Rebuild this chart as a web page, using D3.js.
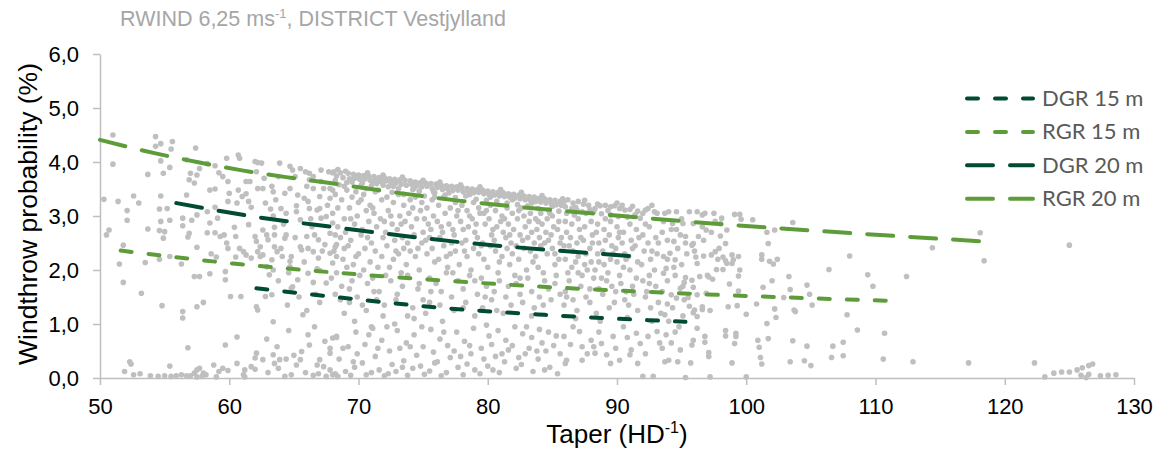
<!DOCTYPE html>
<html><head><meta charset="utf-8">
<script src="https://cdn.jsdelivr.net/npm/d3@7"></script>
<style>body{margin:0;background:#fff}svg{display:block}</style>
</head><body><svg id="c" width="1161" height="459"></svg>
<script>
const xTicks=[50,60,70,80,90,100,110,120,130];
const yTicks=[0,1,2,3,4,5,6];
const seriesNames=["DGR 15 m","RGR 15 m","DGR 20 m","RGR 20 m"];
const dgr15=[[62.1,1.66],[68.6,1.49],[75.9,1.31],[84.4,1.17],[95.3,1.04]];
const rgr15=[[51.6,2.36],[60.3,2.12],[67.8,1.96],[76.3,1.81],[85.0,1.68],[95.8,1.56],[110.9,1.43]];
const dgr20=[[55.9,3.24],[61.6,3.00],[68.2,2.79],[71.5,2.69],[78.1,2.51],[84.8,2.37],[91.6,2.25]];
const rgr20=[[50,4.41],[54.3,4.16],[57.7,3.99],[61.1,3.84],[64.4,3.72],[67.8,3.61],[71.2,3.49],[77.9,3.28],[84.6,3.12],[88.0,3.05],[94.8,2.91],[101.5,2.79],[108.3,2.68],[118.2,2.53]];

const scatterA=[[51.0,4.50],[51.0,3.96],[50.3,3.31],[50.7,2.74],[50.5,2.65],[51.4,3.27],[52.1,3.10],[52.1,2.92],[52.6,3.37],[53.0,3.24],[51.8,2.46],[51.5,2.11],[51.8,1.77],[53.2,1.57],[53.7,3.77],[54.3,4.47],[54.3,4.29],[54.7,4.34],[54.7,4.02],[54.9,3.79],[55.4,3.90],[55.5,4.24],[55.6,4.38],[53.7,2.76],[53.5,2.14],[54.7,3.37],[54.6,3.13],[54.7,2.90],[54.6,2.73],[54.9,2.59],[55.0,2.71],[55.4,2.92],[55.2,3.14],[54.8,1.34],[55.4,2.25],[54.6,2.20],[56.4,1.11],[56.4,1.23],[56.8,0.56],[56.7,4.04],[57.4,4.26],[57.0,3.79],[56.9,3.67],[57.3,3.61],[57.5,3.76],[57.7,3.88],[56.7,3.39],[56.4,2.96],[56.4,2.82],[56.9,2.68],[56.8,2.61],[57.5,3.02],[57.1,2.92],[56.3,2.11],[57.5,2.42],[57.3,1.88],[57.7,1.88],[57.5,1.32],[58.0,1.40],[58.3,3.97],[58.9,3.93],[59.2,3.80],[59.5,3.73],[59.9,3.64],[59.8,4.07],[60.7,4.13],[60.8,4.07],[58.5,3.48],[58.9,3.50],[58.3,3.08],[58.5,2.87],[58.3,2.69],[58.9,2.69],[59.1,2.96],[58.9,3.16],[59.3,2.62],[59.6,2.65],[59.8,2.50],[59.9,2.40],[58.6,2.30],[59.0,2.24],[58.5,1.93],[59.7,1.97],[59.7,1.82],[60.5,2.24],[60.5,2.62],[60.4,2.79],[60.1,1.51],[60.9,1.51],[60.6,0.76],[59.7,0.61],[60.6,0.27],[59.9,0.14],[59.5,0.18],[58.8,0.24],[60.6,3.24],[59.9,3.27],[60.0,3.42],[60.7,3.48],[61.3,3.64],[61.6,3.64],[61.0,3.36],[61.5,3.27],[61.7,3.16],[61.3,3.41],
[62.0,4.01],[62.2,3.99],[62.5,3.98],[62.1,3.82],[62.2,3.51],[62.6,3.51],[63.3,3.55],[63.4,3.45],[62.8,3.24],[63.2,3.13],[63.4,3.00],[61.5,2.84],[62.0,2.62],[62.1,2.53],[62.4,2.43],[62.2,2.34],[62.4,2.25],[62.6,2.28],[60.8,2.40],[61.1,2.34],[61.3,2.28],[61.7,2.22],[62.6,2.74],[62.9,2.65],[63.0,2.56],[63.5,2.79],[63.5,2.65],[63.5,2.43],[63.7,2.34],[64.0,2.40],[64.1,2.25],[63.3,2.19],[62.9,2.06],[63.4,2.00],[63.1,1.91],[63.8,3.73],[63.9,3.98],[64.3,3.42],[64.0,3.14],[64.4,3.05],[64.4,2.65],[64.3,2.59],[64.7,3.92],[64.9,3.85],[65.5,3.88],[65.1,3.73],[64.7,3.51],[65.3,3.39],[65.2,3.19],[65.2,3.08],[65.5,2.93],[65.5,2.43],[65.6,2.37],[64.8,2.25],[64.7,2.16],[64.7,2.06],[65.3,1.82],[64.9,1.69],[64.8,1.66],[65.9,3.82],[66.2,3.79],[66.2,3.67],[66.5,3.73],[66.0,3.55],[66.5,3.51],[65.8,3.33],[66.1,3.27],[66.2,3.14],[66.8,3.11],[66.0,2.62],[66.4,2.80],[66.6,2.65],[66.9,2.56],[66.5,2.34],[66.9,2.22],[66.1,2.40],[66.1,1.94],[66.5,1.77],[67.5,1.76],[66.8,2.02],[67.0,1.99],[67.1,3.85],[67.7,3.82],[68.0,3.80],[67.1,3.64],[67.3,3.51],[67.8,3.51],[68.0,3.48],[67.0,3.36],[67.8,3.33],[67.0,3.14],[67.1,2.96],[67.5,2.99],[68.0,2.87],[67.8,2.68],[68.2,2.65],[68.3,2.47],[67.4,2.47],[67.8,2.31],[68.2,2.43],[68.0,2.13],[68.3,2.25],
[62.8,1.51],[63.3,1.54],[62.1,1.32],[62.2,1.26],[63.4,1.04],[65.7,1.17],[66.1,0.80],[66.2,0.61],[65.6,0.49],[65.5,0.34],[65.2,0.24],[62.1,0.46],[62.0,0.37],[61.7,0.21],[62.0,0.16],[62.6,0.34],[63.4,0.43],[63.5,0.27],[63.8,0.18],[63.9,0.34],[64.4,0.35],[64.3,0.03],[64.8,0.06],[61.2,0.15],[61.1,0.06],[67.0,0.34],[66.8,0.24],[67.3,0.21],[67.8,0.46],[67.8,0.55],[68.0,0.74],[68.3,0.77],[67.8,0.15],[68.0,0.06],[67.5,0.03],[68.4,0.03],
[51.9,0.12],[52.6,0.06],[53.1,0.08],[53.9,0.04],[54.5,0.03],[55.0,0.04],[55.5,0.03],[55.9,0.04],[56.3,0.06],[56.7,0.04],[57.0,0.04],[57.3,0.09],[57.5,0.15],[57.7,0.18],[58.0,0.09],[58.2,0.06],[57.9,0.03],[57.5,0.02],[52.3,0.30],[52.4,0.26],[55.4,0.22],[59.2,0.12],[59.0,0.02],[61.2,0.02],[66.5,0.05],[65.9,0.10],[66.9,0.08],[63.0,0.10]];

const scatterB=[[68.1,3.82],[68.3,3.74],[68.2,3.66],[68.5,3.58],[68.6,3.80],[68.8,3.71],[68.9,3.55],[69.2,3.79],[69.3,3.69],[69.1,3.62],[69.6,3.77],[69.7,3.70],[69.5,3.63],[69.8,3.45],[70.0,3.76],[70.1,3.68],[70.2,3.57],[70.4,3.75],[70.5,3.69],[70.3,3.61],[70.6,3.51],[70.8,3.74],[70.9,3.66],[71.0,3.56],[71.2,3.73],[71.3,3.67],[71.4,3.60],[71.6,3.71],[71.7,3.64],[71.5,3.48],[72.0,3.71],[72.1,3.65],[71.9,3.57],[72.4,3.69],[72.5,3.62],[72.3,3.54],[72.6,3.44],[72.8,3.68],[72.9,3.61],[73.2,3.67],[73.3,3.59],[73.1,3.51],[73.6,3.66],[73.7,3.57],[73.5,3.40],[74.0,3.65],[74.1,3.59],[74.2,3.49],[74.4,3.63],[74.5,3.56],[74.8,3.62],[74.9,3.54],[74.7,3.46],[75.2,3.61],[75.3,3.55],[75.1,3.37],[75.6,3.60],[75.7,3.51],[76.0,3.59],[76.1,3.53],[75.9,3.43],[76.4,3.57],[76.5,3.49],[76.8,3.56],[76.9,3.50],[76.7,3.39],[77.2,3.55],[77.3,3.47],[77.6,3.54],[77.7,3.48],[77.5,3.34],[78.0,3.53],[78.1,3.45],[78.4,3.51],[78.5,3.46],[78.3,3.37],[78.8,3.50],[78.9,3.43],[79.2,3.49],[79.3,3.44],[79.1,3.31],[79.6,3.48],[79.7,3.41],[80.0,3.46],[80.1,3.40],[79.9,3.29],[80.4,3.45],[80.5,3.39],[80.8,3.44],[80.9,3.37],[80.7,3.27],[81.2,3.43],[81.3,3.36],[81.6,3.41],[81.7,3.35],[81.5,3.24],[82.0,3.40],[82.1,3.33],[82.4,3.39],[82.5,3.32],[82.3,3.21],[82.8,3.37],[82.9,3.30],[83.2,3.36],[83.3,3.29],[83.1,3.19],[83.6,3.35],[83.7,3.27],[84.0,3.33],[84.1,3.26],[83.9,3.14],[84.4,3.32],[84.5,3.24],[84.8,3.30],[84.9,3.23],[84.7,3.11],[85.2,3.29],[85.3,3.21],[85.6,3.27],[85.7,3.20],[85.5,3.09],
[68.4,3.86],[69.0,3.83],[69.9,3.72],[70.7,3.80],[71.1,3.62],[71.9,3.76],[72.7,3.55],[73.4,3.72],[74.3,3.52],[75.0,3.66],[75.8,3.45],[76.3,3.63],[77.0,3.43],[77.9,3.58],[78.6,3.40],[79.4,3.54],[80.2,3.35],[81.0,3.49],[81.9,3.30],[82.6,3.44],[83.4,3.24],[84.2,3.38],[85.0,3.18],[85.8,3.32],
[68.2,3.40],[68.0,3.05],[68.4,2.80],[68.1,2.35],[68.3,1.95],[68.2,1.55],[68.7,3.30],[68.9,2.95],[68.6,2.60],[68.8,2.20],[68.7,1.70],[68.9,1.20],[69.1,3.48],[69.3,3.15],[69.0,2.70],[69.2,2.45],[69.1,2.05],[69.3,1.40],[69.5,3.35],[69.7,2.85],[69.4,2.55],[69.6,2.10],[69.5,1.80],[69.7,1.05],[70.0,3.25],[69.9,3.00],[70.2,2.65],[70.0,2.30],[70.1,1.90],[69.9,1.50],[70.4,3.40],[70.6,3.10],[70.3,2.75],[70.5,2.40],[70.4,2.00],[70.6,1.25],[70.9,3.20],[70.8,2.90],[71.0,2.50],[70.9,2.15],[70.7,1.75],[71.0,0.95],[71.3,3.45],[71.2,3.05],[71.4,2.80],[71.3,2.35],[71.1,1.85],[71.4,1.45],[71.8,3.30],[71.7,2.95],[71.9,2.60],[71.8,2.25],[71.6,1.60],[71.9,1.15],[72.2,3.35],[72.3,3.10],[72.1,2.70],[72.2,2.45],[72.4,2.05],[72.0,1.35],[72.7,3.25],[72.6,2.85],[72.8,2.55],[72.7,2.20],[72.5,1.80],[72.8,1.00],[73.1,3.40],[73.2,3.00],[73.0,2.75],[73.1,2.30],[73.3,1.95],[73.0,1.55],[73.5,3.20],[73.6,2.90],[73.4,2.60],[73.5,2.40],[73.7,2.10],[73.4,1.70],[74.0,3.30],[73.9,3.05],[74.1,2.80],[74.0,2.35],[73.8,1.90],[74.2,1.30],[74.4,3.35],[74.5,2.95],[74.3,2.65],[74.4,2.25],[74.6,1.65],[74.3,1.10],[74.9,3.25],[74.8,3.10],[75.0,2.70],[74.9,2.50],[74.7,2.00],[75.0,1.45],[75.3,3.15],[75.4,2.85],[75.2,2.55],[75.3,2.30],[75.5,1.85],[75.2,1.20],[75.7,3.30],[75.8,3.00],[75.6,2.75],[75.7,2.40],[75.9,2.15],[75.6,1.60],[76.2,3.20],[76.1,2.90],[76.3,2.60],[76.2,2.20],[76.0,1.75],[76.3,1.35],[76.6,3.35],[76.7,3.05],[76.5,2.70],[76.6,2.45],[76.8,1.95],[76.5,1.05],[77.1,3.15],[77.0,2.85],[77.2,2.50],[77.1,2.30],[76.9,2.05],[77.2,1.50],[77.5,3.25],[77.6,3.00],[77.4,2.65],[77.5,2.35],[77.7,1.80],[77.4,1.25],[78.0,3.20],[77.9,2.90],[78.1,2.75],[78.0,2.50],[77.8,2.10],[78.1,1.65],[78.4,3.10],[78.5,2.80],[78.3,2.55],[78.4,2.25],[78.6,1.90],[78.3,1.40],[78.9,3.25],[78.8,2.95],[79.0,2.70],[78.9,2.40],[78.7,2.00],[79.0,1.15],[79.3,3.15],[79.4,3.05],[79.2,2.60],[79.3,2.30],[79.5,1.85],[79.2,1.55],[79.7,3.05],[79.8,2.85],[79.6,2.50],[79.7,2.20],[79.9,1.70],[79.6,1.30],[80.2,3.20],[80.1,2.95],[80.3,2.65],[80.2,2.45],[80.0,2.05],[80.3,1.45],[80.6,3.10],[80.7,2.80],[80.5,2.55],[80.6,2.35],[80.8,1.95],[80.5,1.60],[81.1,3.00],[81.0,2.90],[81.2,2.70],[81.1,2.25],[80.9,1.80],[81.2,1.20],[81.5,3.15],[81.6,2.85],[81.4,2.60],[81.5,2.40],[81.7,2.10],[81.4,1.50],[81.9,3.05],[82.0,2.75],[81.8,2.50],[81.9,2.30],[82.1,1.90],[81.8,1.35],[82.4,3.10],[82.3,2.95],[82.5,2.65],[82.4,2.20],[82.2,1.75],[82.5,1.55],[82.8,3.00],[82.9,2.80],[82.7,2.55],[82.8,2.40],[83.0,2.00],[82.7,1.40],[83.3,3.05],[83.2,2.90],[83.4,2.70],[83.3,2.35],[83.1,1.85],[83.4,1.60],[83.7,2.95],[83.8,2.75],[83.6,2.50],[83.7,2.25],[83.9,2.05],[83.6,1.30],[84.1,3.05],[84.2,2.85],[84.0,2.60],[84.1,2.45],[84.3,1.95],[84.0,1.50],[84.6,2.95],[84.5,2.70],[84.7,2.55],[84.6,2.30],[84.4,1.80],[84.7,1.65],[85.0,3.00],[85.1,2.80],[84.9,2.65],[85.0,2.40],[85.2,2.10],[84.9,1.45],[85.5,2.90],[85.4,2.75],[85.6,2.50],[85.5,2.20],[85.3,1.90],[85.6,1.55],
[68.3,0.75],[68.5,0.35],[68.2,0.08],[69.2,0.58],[69.0,0.12],[69.4,0.05],[69.8,0.85],[69.9,0.45],[69.7,0.20],[70.5,0.62],[70.3,0.28],[70.6,0.06],[71.1,0.92],[71.3,0.40],[71.0,0.10],[71.8,0.70],[71.6,0.15],[72.0,0.04],[72.4,0.50],[72.6,0.25],[72.3,0.08],[73.0,0.88],[73.2,0.55],[72.9,0.12],[73.7,0.65],[73.5,0.32],[73.8,0.05],[74.3,0.80],[74.5,0.42],[74.2,0.18],[75.0,0.58],[74.8,0.22],[75.1,0.07],[75.6,0.90],[75.8,0.48],[75.5,0.13],[76.3,0.72],[76.1,0.30],[76.4,0.04],[76.9,0.60],[77.1,0.38],[76.8,0.10],[77.6,0.85],[77.4,0.50],[77.7,0.20],[78.2,0.68],[78.4,0.26],[78.1,0.06],[78.9,0.92],[78.7,0.45],[79.0,0.15],[79.5,0.55],[79.7,0.35],[79.4,0.08],[80.1,0.78],[80.3,0.62],[80.0,0.22],[80.8,0.88],[80.6,0.40],[80.9,0.10],[81.4,0.70],[81.6,0.52],[81.3,0.30],[82.1,0.95],[81.9,0.60],[82.2,0.18],[82.7,0.82],[82.9,0.45],[82.6,0.25],[83.4,0.75],[83.2,0.55],[83.5,0.12],[84.0,0.90],[84.2,0.65],[83.9,0.35],[84.7,0.85],[84.5,0.50],[84.8,0.20],[85.3,0.78],[85.1,0.60],[85.4,0.08]];

const scatterC=[[85.9,3.27],[86.2,3.30],[86.6,3.24],[87.0,3.27],[87.4,3.22],[87.8,3.20],[86.0,3.17],[86.5,3.14],[86.9,3.11],[87.3,3.08],[86.1,3.05],[86.7,3.02],[87.6,3.05],[88.2,3.08],[88.7,3.19],[89.1,3.20],[89.5,3.17],[89.8,3.19],[90.2,3.14],[90.6,3.11],[91.0,3.12],[88.8,3.04],[89.5,3.02],[90.1,2.99],[90.8,2.98],[91.4,3.02],[91.8,2.96],[92.2,3.11],[92.4,3.14],[92.9,3.08],[93.1,3.05],[88.3,3.14],[87.9,3.12],[91.6,3.09],[90.4,3.20],[86.8,3.16],[87.5,3.29],[88.5,3.22],[89.3,3.10],[90.0,3.24],[91.2,3.18],[92.0,3.05],[92.7,3.20],
[86.0,2.90],[86.1,2.70],[85.9,2.45],[86.0,2.20],[86.2,1.95],[86.0,1.60],[85.9,1.35],[86.5,2.85],[86.4,2.60],[86.6,2.35],[86.5,2.05],[86.3,1.80],[86.6,1.45],[87.0,2.95],[87.1,2.75],[86.9,2.50],[87.0,2.25],[87.2,1.70],[86.9,1.25],[87.5,2.80],[87.4,2.55],[87.6,2.30],[87.5,2.10],[87.3,1.90],[87.6,1.50],[88.0,2.90],[88.1,2.65],[87.9,2.40],[88.0,2.15],[88.2,1.85],[87.9,1.40],[88.5,2.85],[88.4,2.70],[88.6,2.50],[88.5,2.30],[88.3,2.00],[88.6,1.65],[88.4,1.20],[89.0,2.75],[89.1,2.55],[88.9,2.35],[89.0,2.10],[89.2,1.80],[88.9,1.55],[89.5,2.90],[89.4,2.65],[89.6,2.45],[89.5,2.20],[89.3,1.95],[89.6,1.70],[89.4,1.30],[90.0,2.80],[90.1,2.60],[89.9,2.40],[90.0,2.15],[90.2,1.90],[89.9,1.60],[90.5,2.70],[90.4,2.50],[90.6,2.30],[90.5,2.05],[90.3,1.75],[90.6,1.45],[91.0,2.85],[91.1,2.55],[90.9,2.25],[91.0,2.00],[91.2,1.70],[90.9,1.35],[91.5,2.75],[91.4,2.45],[91.6,2.15],[91.5,1.85],[91.3,1.55],[92.0,2.65],[92.1,2.35],[91.9,2.10],[92.0,1.80],[92.2,1.50],[92.5,2.80],[92.4,2.50],[92.6,2.20],[92.5,1.90],[92.3,1.60],[92.6,1.30],[93.0,2.60],[93.1,2.30],[92.9,2.00],[93.0,1.70],[93.2,1.40],
[85.9,0.77],[86.6,0.95],[87.3,0.58],[86.1,0.33],[88.3,0.46],[88.8,0.64],[89.2,0.43],[90.2,0.33],[91.1,0.52],[91.8,0.64],[92.0,0.03],[92.8,0.03],[91.6,0.27],[91.0,0.43],[89.7,0.77],[90.5,0.95],[91.5,0.83],[92.4,0.77],[93.1,0.86],[87.1,0.86],[88.0,0.70],[88.2,0.58],[86.0,0.27],[87.3,0.33],[89.5,0.27],[86.8,1.10],[88.7,1.05],[90.8,1.12],[92.7,1.05]];

const scatterD=[[99.1,3.03],[99.5,3.03],[99.6,2.94],[100.5,2.93],[101.6,2.70],[102.2,2.74],[101.7,2.49],[101.2,2.28],[101.2,2.20],[101.8,2.16],[102.1,2.11],[102.4,2.20],[99.4,2.25],[98.9,2.28],[99.5,2.00],[99.4,1.89],[98.7,1.74],[99.4,1.61],[99.3,1.34],[100.0,1.18],[100.8,1.37],[101.3,1.68],[102.0,1.80],[103.3,1.88],[102.9,1.49],[102.2,1.28],[102.3,1.12],[101.6,1.01],[101.7,0.73],[100.9,0.70],[101.0,0.57],[101.1,0.38],[101.2,0.26],[99.2,0.83],[99.2,0.77],[99.1,0.64],[98.4,0.88],[98.4,0.78],[98.9,0.28],[100.0,0.02],[97.2,0.02],[95.3,0.01],[98.6,1.32],[98.4,2.17],[98.9,2.12],[99.0,2.19],[97.7,2.01],[98.2,2.01],[98.5,2.12],[98.2,2.24],[97.8,2.20],[97.6,2.34],[97.3,2.28],[96.7,2.26],[96.1,2.24],[96.2,2.12],[97.0,1.90],[97.1,1.87],[96.4,1.88],[97.4,1.83],[95.8,1.81],[95.3,1.86],[95.2,1.77],[95.1,1.70],[95.9,1.68],[96.2,1.54],[96.9,1.57],[97.2,1.25],[96.6,1.27],[96.0,1.26],[95.9,1.21],[95.5,1.49],[95.6,1.33],[96.2,0.92],[96.8,0.77],[96.8,0.66],[95.9,0.70],[95.8,0.61],[97.1,0.47],[97.1,0.40],[94.7,0.30],[95.7,0.28],[93.7,0.30],[94.0,0.33],[98.5,2.74],[98.0,2.63],[98.4,2.49],[98.0,2.86],[97.6,2.90],[98.1,2.96],[97.5,3.05],[96.6,2.80],[96.9,2.74],[96.3,2.62],[95.9,2.49],[95.8,2.46],[95.3,2.62],[95.1,2.86],[94.9,2.65],[94.4,2.53],[94.1,2.31],[94.5,2.19],[93.6,2.25],[93.6,1.94],[93.8,2.03],[94.3,2.86],[94.6,3.08],[95.6,3.08],[96.2,3.08],[96.6,3.02],[96.8,3.05],[95.9,2.86],[93.7,3.05],[94.0,3.08],[94.9,1.66],[94.6,1.48],[94.2,1.54],[93.9,1.37],[93.7,1.17],[93.8,0.80],[94.2,0.65],[95.1,1.15],[96.2,1.14],[96.6,1.32],[93.5,2.70],[93.9,2.55],[94.7,2.40],[95.4,2.30],[93.6,2.90],[94.2,2.75],[95.0,2.95],[94.4,2.05],[95.0,2.10],[93.9,1.80],[94.5,1.90],[93.5,1.60],[94.0,1.05],[94.8,0.95],[93.5,0.55],[94.9,0.52]];

const scatterE=[[103.6,2.88],[103.4,1.64],[103.8,1.23],[103.7,1.26],[103.6,0.69],[103.4,0.30],[104.7,1.72],[104.9,1.55],[105.1,1.35],[104.7,0.59],[104.5,0.32],[105.0,0.23],[106.4,2.01],[108.0,2.26],[109.4,1.91],[109.8,1.70],[107.8,1.17],[108.6,0.89],[106.7,0.59],[107.5,0.66],[106.6,0.38],[107.5,0.41],[110.7,0.83],[110.6,0.35],[112.4,1.88],[112.9,0.30],[114.4,2.41],[117.2,0.28],[118.1,2.69],[118.4,2.17],[122.3,0.28],[125.0,2.46],[123.1,0.02],[123.8,0.09],[124.4,0.11],[125.0,0.11],[125.6,0.15],[126.0,0.19],[126.5,0.23],[126.8,0.26],[125.9,0.05],[126.5,0.07],[127.4,0.04],[128.0,0.05],[128.6,0.06],[126.3,0.01]];

const scatterF=[[62.7,3.70],[63.6,3.30],[64.2,2.85],[64.6,1.95],[65.1,2.60],[65.8,2.15],[66.3,2.95],[66.7,1.55],[67.2,2.35],[67.6,3.20],[68.4,3.15],[68.9,2.40],[69.4,2.95],[69.8,2.25],[70.2,3.30],[70.7,2.60],[71.1,3.15],[71.5,2.05],[72.0,2.90],[72.5,3.00],[72.9,2.35],[73.3,2.85],[73.8,2.50],[74.2,3.15],[74.6,2.40],[75.1,2.95],[75.5,2.60],[75.9,3.35],[76.4,2.80],[76.8,2.25],[77.3,2.75],[77.7,3.10],[78.2,2.35],[78.6,3.00],[79.1,2.85],[79.5,2.45],[79.9,3.10],[80.4,2.75],[80.9,2.15],[81.3,2.95],[81.7,2.65],[82.2,2.45],[82.6,3.15],[83.1,2.60],[83.5,2.15],[83.9,2.90],[84.4,2.50],[84.8,3.05],[85.2,2.30],[85.7,2.60],[86.3,2.45],[86.8,2.15],[87.2,2.60],[87.7,2.00],[88.1,2.50],[88.6,2.15],[89.1,2.95],[89.7,2.30],[90.2,2.70],[90.7,2.20],[91.2,2.40],[91.7,2.60],[92.2,2.85],[92.7,2.35],[93.2,2.50],[93.9,2.20],[94.6,2.75],[95.3,2.50],[96.0,2.35],[96.7,2.55],[97.3,2.70],[97.9,2.40],
[63.8,1.80],[64.5,1.35],[65.4,1.50],[66.0,1.25],[67.0,1.40],[67.9,1.85],[68.6,1.45],[69.3,1.65],[70.3,1.35],[71.2,1.60],[72.1,1.90],[72.9,1.45],[73.8,1.15],[74.7,1.75],[75.5,1.40],[76.4,1.60],[77.3,1.95],[78.1,1.30],[79.0,1.80],[79.8,1.50],[80.7,1.25],[81.6,1.70],[82.5,1.85],[83.4,1.15],[84.3,1.35],[85.2,1.75],[86.1,1.50],[87.0,1.95],[87.9,1.65],[88.8,1.85],[89.8,1.40],[90.7,1.60],[91.6,1.25],[92.5,1.75],[93.4,1.20],[94.3,1.30],[95.2,1.45],
[62.9,0.72],[63.7,0.58],[64.6,0.88],[65.0,0.42],[66.6,0.95],[67.4,0.68],[68.8,0.55],[69.6,0.30],[70.8,0.80],[71.5,0.55],[72.2,0.95],[73.4,0.20],[74.0,0.58],[74.9,0.95],[75.9,0.28],[76.6,0.85],[77.9,0.40],[78.6,0.60],[79.9,0.98],[80.4,0.15],[81.1,0.45],[82.4,0.38],[83.0,0.95],[83.8,0.50],[84.4,0.15],[85.6,0.45],[86.4,0.62],[87.7,0.45],[88.6,0.85],[89.9,0.55],[90.8,0.75],[92.2,0.45],[93.3,0.65],[94.5,0.85]];

const scatter=[].concat(scatterA,scatterB,scatterC,scatterD,scatterE,scatterF);
const seriesData=[dgr15,rgr15,dgr20,rgr20];

const DARK="#004b32", LIGHT="#5e9c3a";
const styles=[{c:DARK,d:"11,17"},{c:LIGHT,d:"11,17"},{c:DARK,d:"26,17"},{c:LIGHT,d:"26,17"}];
const FONT="'Liberation Sans', Arial, sans-serif";

const svg=d3.select("#c");
const x=d3.scaleLinear().domain([50,130]).range([100,1134]);
const y=d3.scaleLinear().domain([0,6]).range([378,54]);

svg.append("g").selectAll("circle").data(scatter).join("circle")
  .attr("cx",d=>x(d[0])).attr("cy",d=>y(d[1])).attr("r",2.8).attr("fill","#bfbfbf");

const fmt=d=>d3.format(".1f")(d).replace(".",",");
const gy=svg.append("g").attr("transform","translate(100,0)")
  .call(d3.axisLeft(y).tickValues(yTicks).tickFormat(fmt).tickSize(7).tickSizeOuter(0).tickPadding(14));
const gx=svg.append("g").attr("transform","translate(0,378)")
  .call(d3.axisBottom(x).tickValues(xTicks).tickFormat(d3.format("d")).tickSize(7).tickSizeOuter(0).tickPadding(13));
[gy,gx].forEach(g=>{
  g.selectAll("path,line").attr("stroke","#bfbfbf").attr("stroke-width",1.5);
  g.selectAll("text").attr("fill","#000").style("font-family",FONT).style("font-size","22px");
});

const line=d3.line().x(d=>x(d[0])).y(d=>y(d[1])).curve(d3.curveMonotoneX);
svg.append("g").selectAll("path").data(seriesData).join("path")
  .attr("d",line).attr("fill","none")
  .attr("stroke",(d,i)=>styles[i].c).attr("stroke-width",4)
  .attr("stroke-dasharray",(d,i)=>styles[i].d).attr("stroke-linecap","round");

const lg=svg.append("g");
seriesNames.forEach((n,i)=>{
  const yy=98.5+i*33.4;
  lg.append("line").attr("x1",967).attr("x2",1033).attr("y1",yy).attr("y2",yy)
    .attr("stroke",styles[i].c).attr("stroke-width",4).attr("stroke-dasharray",styles[i].d).attr("stroke-linecap","round");
  lg.append("text").attr("x",1042).attr("y",yy+7.5).text(n)
    .attr("fill","#595959").style("font-family","Lato, 'Open Sans', sans-serif").style("font-size","22px");
});

const t=svg.append("text").attr("x",120).attr("y",26).attr("fill","#a6a6a6")
  .style("font-family",FONT).style("font-size","21.5px");
t.append("tspan").text("RWIND 6,25 ms");
t.append("tspan").attr("dy",-8).style("font-size","13px").text("-1");
t.append("tspan").attr("dy",8).text(", DISTRICT Vestjylland");

const xt=svg.append("text").attr("x",617).attr("y",443).attr("text-anchor","middle").attr("fill","#000")
  .style("font-family",FONT).style("font-size","26px");
xt.append("tspan").text("Taper (HD");
xt.append("tspan").attr("dy",-10).style("font-size","16px").text("-1");
xt.append("tspan").attr("dy",10).text(")");
svg.append("text").attr("transform","translate(37,214) rotate(-90)").attr("text-anchor","middle").attr("fill","#000")
  .style("font-family",FONT).style("font-size","26.5px").text("Windthrow probability (%)");
</script></body></html>
